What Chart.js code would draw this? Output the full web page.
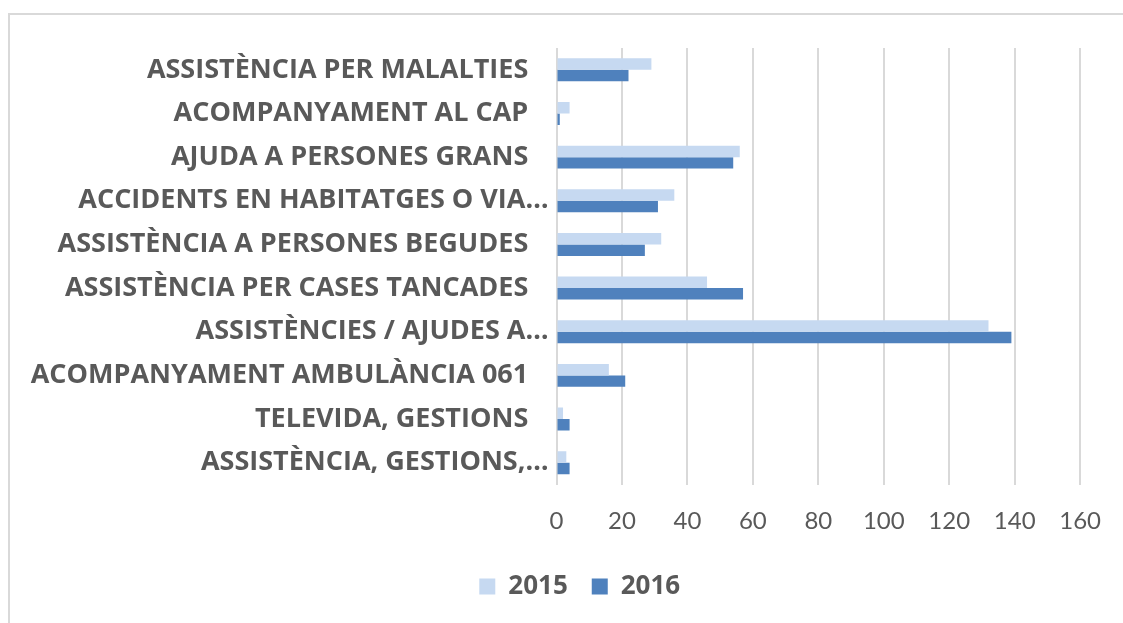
<!DOCTYPE html>
<html>
<head>
<meta charset="utf-8">
<script src="https://cdn.jsdelivr.net/npm/chart.js@4"></script>
<style>
  html, body { margin: 0; padding: 0; background: #ffffff; }
  #wrap { position: relative; width: 1123px; height: 623px; overflow: hidden; }
  #frame { position: absolute; left: 8px; top: 13px; width: 1200px; height: 700px; border: 2px solid #d9d9d9; box-sizing: border-box; }
  canvas { position: absolute; left: 0; top: 0; }
</style>
</head>
<body>
<div id="wrap">
  <div id="frame"></div>
  <canvas id="c" width="1123" height="623"></canvas>
</div>
<script>
const categories = [
  "ASSISTÈNCIA PER MALALTIES",
  "ACOMPANYAMENT AL CAP",
  "AJUDA A PERSONES GRANS",
  "ACCIDENTS EN HABITATGES O VIA…",
  "ASSISTÈNCIA A PERSONES BEGUDES",
  "ASSISTÈNCIA PER CASES TANCADES",
  "ASSISTÈNCIES / AJUDES A…",
  "ACOMPANYAMENT AMBULÀNCIA 061",
  "TELEVIDA, GESTIONS",
  "ASSISTÈNCIA, GESTIONS,…"
];
const values2015 = [29, 4, 56, 36, 32, 46, 132, 16, 2, 3];
const values2016 = [22, 1, 54, 31, 27, 57, 139, 21, 4, 4];
const seriesNames = ["2015", "2016"];
const xTicks = [0, 20, 40, 60, 80, 100, 120, 140, 160];

const PLOT_LEFT = 556.5;
const LEGEND_SHIFT = 39.5;

const legendShift = {
  id: 'legendShift',
  afterLayout(chart) {
    const lg = chart.legend;
    if (lg) { lg.left += LEGEND_SHIFT; lg.right += LEGEND_SHIFT; }
  }
};

new Chart(document.getElementById('c'), {
  type: 'bar',
  data: {
    labels: categories,
    datasets: [
      { label: seriesNames[0], data: values2015, backgroundColor: '#c6d9f1', borderWidth: 0 },
      { label: seriesNames[1], data: values2016, backgroundColor: '#4f81bd', borderWidth: 0 }
    ]
  },
  plugins: [legendShift],
  options: {
    indexAxis: 'y',
    responsive: false,
    animation: false,
    devicePixelRatio: 1,
    layout: { padding: { left: 0, right: 42.5, top: 48, bottom: 13.5 } },
    datasets: { bar: { categoryPercentage: 0.525, barPercentage: 1.0 } },
    scales: {
      x: {
        min: xTicks[0],
        max: xTicks[xTicks.length - 1],
        afterBuildTicks: (s) => { s.ticks = xTicks.map(v => ({ value: v })); },
        afterFit: (s) => { s.height = 65; },
        border: { display: false },
        grid: { color: '#d9d9d9', lineWidth: 2, drawTicks: false },
        ticks: {
          color: '#595959',
          padding: 22,
          font: { family: 'Lato', size: 24, weight: 'normal' }
        }
      },
      y: {
        afterFit: (s) => { s.width = PLOT_LEFT; },
        border: { display: false },
        grid: { display: false, drawTicks: false },
        ticks: {
          color: '#595959',
          padding: 8,
          autoSkip: false,
          font: { family: 'Open Sans', size: 27, weight: 'bold' },
          callback: function (v, i) {
            const l = categories[i];
            return l.endsWith('…') ? l : l + '\u2002\u2005';
          }
        }
      }
    },
    plugins: {
      legend: {
        position: 'bottom',
        labels: {
          boxWidth: 16,
          boxHeight: 16,
          padding: 24,
          color: '#595959',
          font: { family: 'Open Sans', size: 26, weight: 'bold' }
        }
      },
      tooltip: { enabled: false }
    }
  }
});
</script>
</body>
</html>
